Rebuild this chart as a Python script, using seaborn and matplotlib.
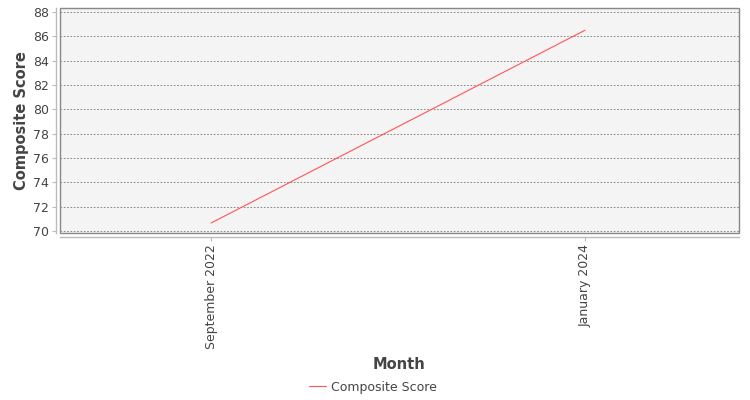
import matplotlib
matplotlib.use("Agg")
import matplotlib.pyplot as plt
import seaborn as sns
import pandas as pd
from matplotlib.patches import Rectangle

months = ["September 2022", "January 2024"]
scores = [70.66, 86.5]
series_name = "Composite Score"
y_ticks = [70, 72, 74, 76, 78, 80, 82, 84, 86, 88]

sns.set_theme(style="white")
plt.rcParams['font.family'] = ['DejaVu Sans']

df = pd.DataFrame({"Month": months, "Composite Score": scores, "series": series_name})

fig = plt.figure(figsize=(7.5, 4), dpi=100)
ax = fig.add_axes([60/750, 1 - 233/400, (739 - 60)/750, (233 - 8)/400])
ax.set_facecolor("#f4f4f4")

sns.lineplot(data=df, x="Month", y="Composite Score", hue="series",
             palette=["#ff5555"], linewidth=0.8, ax=ax, sort=False)

ax.set_ylim(69.84, 88.33)
ax.set_xlim(-0.404, 1.412)
ax.set_yticks(y_ticks)
ax.set_yticklabels([str(t) for t in y_ticks])
ax.yaxis.grid(True, color="#777777", linestyle=(0, (2, 2)), linewidth=0.6)
ax.xaxis.grid(False)

for s in ["top", "right"]:
    ax.spines[s].set_visible(False)
for s in ["left", "bottom"]:
    ax.spines[s].set_position(("outward", 3))
    ax.spines[s].set_color("#bbbbbb")
    ax.spines[s].set_linewidth(1.0)

ax.add_patch(Rectangle((0, 0), 1, 1, transform=ax.transAxes, fill=False,
                       edgecolor="#888888", linewidth=1.0, clip_on=False, zorder=5))

ax.tick_params(axis="y", which="major", left=True, length=3, width=0.8,
               color="#bbbbbb", labelsize=9, labelcolor="#444444", pad=2)
ax.tick_params(axis="x", which="major", bottom=True, length=3, width=0.8,
               color="#bbbbbb", labelsize=9, labelcolor="#444444", pad=2)
for lbl in ax.get_xticklabels():
    lbl.set_rotation(90)

ax.set_xlabel("Month", fontsize=10.5, fontweight="bold", color="#444444", labelpad=6)
ax.set_ylabel("Composite Score", fontsize=10.5, fontweight="bold", color="#444444", labelpad=3)

leg = ax.legend(loc="center", bbox_to_anchor=(373/750, 1 - 387/400),
                bbox_transform=fig.transFigure, frameon=False, fontsize=9,
                handlelength=1.3, handletextpad=0.4)
for t in leg.get_texts():
    t.set_color("#444444")

fig.savefig("out.png", dpi=100)
